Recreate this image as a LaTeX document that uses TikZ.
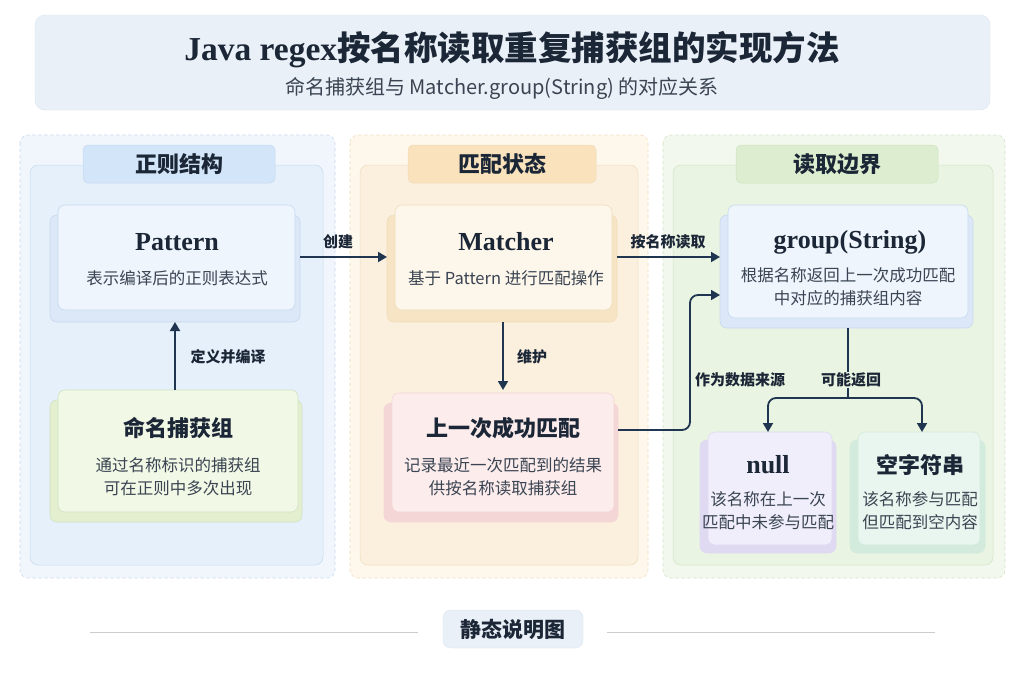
\documentclass[tikz,border=0pt]{standalone}
\usepackage{fontspec}
\newfontfamily\cjk{Noto Sans CJK SC}
\newfontfamily\serifb{Liberation Serif}
\usetikzlibrary{arrows.meta}
\definecolor{ink}{HTML}{1B2636}
\definecolor{arr}{HTML}{1F3550}
\definecolor{sub}{HTML}{3A4452}
\definecolor{bO}{HTML}{F1F6FC}\definecolor{bI}{HTML}{E6F0FB}\definecolor{bD}{HTML}{C6D9F0}
\definecolor{bTab}{HTML}{D3E5F8}\definecolor{bC}{HTML}{EEF5FD}\definecolor{bS}{HTML}{DCE8F7}
\definecolor{oO}{HTML}{FDF7EC}\definecolor{oI}{HTML}{FBF0DE}\definecolor{oD}{HTML}{F0DDBB}
\definecolor{oTab}{HTML}{F9E2BC}\definecolor{oC}{HTML}{FDF6EA}\definecolor{oS}{HTML}{F6E4C4}
\definecolor{gO}{HTML}{F3F8EE}\definecolor{gI}{HTML}{EAF4E2}\definecolor{gD}{HTML}{CFE3C2}
\definecolor{gTab}{HTML}{DDEDCF}
\definecolor{yC}{HTML}{F2F8E6}\definecolor{yS}{HTML}{E4EFD0}
\definecolor{pC}{HTML}{FCECEC}\definecolor{pS}{HTML}{F5D6D6}
\definecolor{vC}{HTML}{F0EEFA}\definecolor{vS}{HTML}{DFDAF2}
\definecolor{tC}{HTML}{E9F6EF}\definecolor{tS}{HTML}{D2EBDD}
\definecolor{hd}{HTML}{EAF0F7}
\tikzset{
 x=1pt,y=-1pt,
 outer/.style={draw=#1,dashed,rounded corners=8pt,line width=0.6pt},
 inner/.style={draw=#1,rounded corners=8pt,line width=0.5pt},
 tab/.style={rounded corners=5pt,draw=#1,line width=0.5pt},
 card/.style={rounded corners=7pt,line width=0.6pt},
 ttl/.style={font=\serifb\bfseries\fontsize{26}{28}\selectfont,text=ink,inner sep=0},
 cttl/.style={font=\cjk\bfseries\fontsize{22}{24}\selectfont,text=ink,inner sep=0},
 desc/.style={font=\cjk\fontsize{16.5}{23}\selectfont,text=sub,align=center,inner sep=0},
 lab/.style={font=\cjk\bfseries\fontsize{15}{16}\selectfont,text=ink,inner sep=1pt},
 con/.style={draw=arr,line width=1.8pt,-{Triangle[length=9pt,width=10pt]},rounded corners=8pt},
}
\begin{document}
\begin{tikzpicture}
\fill[white] (0,0) rectangle (1024,683);
\useasboundingbox (0,0) rectangle (1024,683);
% header
\filldraw[fill=hd,draw=bD!70,rounded corners=10pt] (35,15) rectangle (990,110);
\node[font=\bfseries\cjk\fontsize{33.5}{35}\selectfont,text=ink] (title) at (512,50) {{\serifb\bfseries Java regex}按名称读取重复捕获组的实现方法};
\node[font=\cjk\fontsize{20}{22}\selectfont,text=sub] (subtitle) at (502,88) {命名捕获组与 Matcher.group(String) 的对应关系};
% columns
\filldraw[outer=bD,fill=bO] (20,135) rectangle (335,578);
\filldraw[inner=bD,fill=bI] (30,165) rectangle (323,565);
\filldraw[outer=oD,fill=oO] (350,135) rectangle (648,578);
\filldraw[inner=oD,fill=oI] (360,165) rectangle (638,565);
\filldraw[outer=gD,fill=gO] (663,135) rectangle (1005,578);
\filldraw[inner=gD,fill=gI] (673,165) rectangle (993,565);
% tabs
\filldraw[tab=bD,fill=bTab] (83,145) rectangle (275,183);
\node[cttl] (t1) at (179,164) {正则结构};
\filldraw[tab=oD,fill=oTab] (408,145) rectangle (596,183);
\node[cttl] (t2) at (502,164) {匹配状态};
\filldraw[tab=gD,fill=gTab] (736,145) rectangle (938,183);
\node[cttl] (t3) at (837,164) {读取边界};
% cards
\filldraw[card,fill=bS,draw=bD] (50,215) rectangle (300,322);
\filldraw[card,fill=bC,draw=bD] (58,205) rectangle (295,310);
\node[ttl] (pat) at (177,242) {Pattern};
\node[desc] (patd) at (177,278) {表示编译后的正则表达式};
\coordinate (patR) at (300,257);
\coordinate (patB) at (175,322);

\filldraw[card,fill=yS,draw=gD] (50,400) rectangle (302,522);
\filldraw[card,fill=yC,draw=gD] (58,390) rectangle (298,512);
\node[cttl] (ncg) at (178,428) {命名捕获组};
\node[desc] (ncgd) at (178,477) {通过名称标识的捕获组\\可在正则中多次出现};
\coordinate (ncgT) at (175,390);

\filldraw[card,fill=oS,draw=oD] (387,215) rectangle (617,322);
\filldraw[card,fill=oC,draw=oD] (395,205) rectangle (612,310);
\node[ttl] (mat) at (506,242) {Matcher};
\node[desc] (matd) at (506,278) {基于 Pattern 进行匹配操作};
\coordinate (matL) at (387,257);
\coordinate (matR) at (617,257);
\coordinate (matB) at (503,322);

\filldraw[card,fill=pS,draw=pS] (384,403) rectangle (618,522);
\filldraw[card,fill=pC,draw=pS] (392,393) rectangle (614,512);
\node[cttl] (last) at (503,428) {上一次成功匹配};
\node[desc] (lastd) at (503,477) {记录最近一次匹配到的结果\\供按名称读取捕获组};
\coordinate (lastT) at (503,390);
\coordinate (lastR) at (618,430);

\filldraw[card,fill=bS,draw=bD] (720,215) rectangle (973,328);
\filldraw[card,fill=bC,draw=bD] (728,205) rectangle (968,318);
\node[ttl] (grp) at (850,242) {group(String)};
\node[desc] (grpd) at (848,287) {根据名称返回上一次成功匹配\\中对应的捕获组内容};
\coordinate (grpL) at (720,257);
\coordinate (grpL2) at (720,295);
\coordinate (grpB) at (848,328);

\filldraw[card,fill=vS,draw=vS] (700,440) rectangle (836,553);
\filldraw[card,fill=vC,draw=vS] (708,432) rectangle (832,545);
\node[ttl] (nul) at (768,465) {null};
\node[desc] (nuld) at (768,511) {该名称在上一次\\匹配中未参与匹配};
\coordinate (nulT) at (768,432);

\filldraw[card,fill=tS,draw=tS] (850,440) rectangle (985,553);
\filldraw[card,fill=tC,draw=tS] (858,432) rectangle (980,545);
\node[cttl] (emp) at (920,465) {空字符串};
\node[desc] (empd) at (920,511) {该名称参与匹配\\但匹配到空内容};
\coordinate (empT) at (922,432);
% connectors
\draw[con] (patR) -- (matL);
\node[lab] (l1) at (338,242) {创建};
\draw[con] (matR) -- (grpL);
\node[lab] (l2) at (668,242) {按名称读取};
\draw[con] (ncgT) -- (patB);
\node[lab] (l3) at (228,357) {定义并编译};
\draw[con] (matB) -- (lastT);
\node[lab] (l4) at (532,357) {维护};
\draw[con] (lastR) -| (690,295) -- (grpL2);
\node[lab] (l5) at (740,380) {作为数据来源};
\coordinate (split) at (848,398);
\draw[con,-] (grpB) -- (split);
\draw[con] (split) -| (nulT);
\draw[con] (split) -| (empT);
\node[lab,fill=gI] (l6) at (851,380) {可能返回};
% footer
\draw[gray!40,line width=0.6pt] (90,632) -- (418,632);
\draw[gray!40,line width=0.6pt] (607,632) -- (935,632);
\filldraw[fill=hd,draw=bD!70,rounded corners=8pt] (443,610) rectangle (583,648);
\node[cttl,font=\cjk\bfseries\fontsize{21}{23}\selectfont] (foot) at (513,629) {静态说明图};
\end{tikzpicture}
\end{document}
